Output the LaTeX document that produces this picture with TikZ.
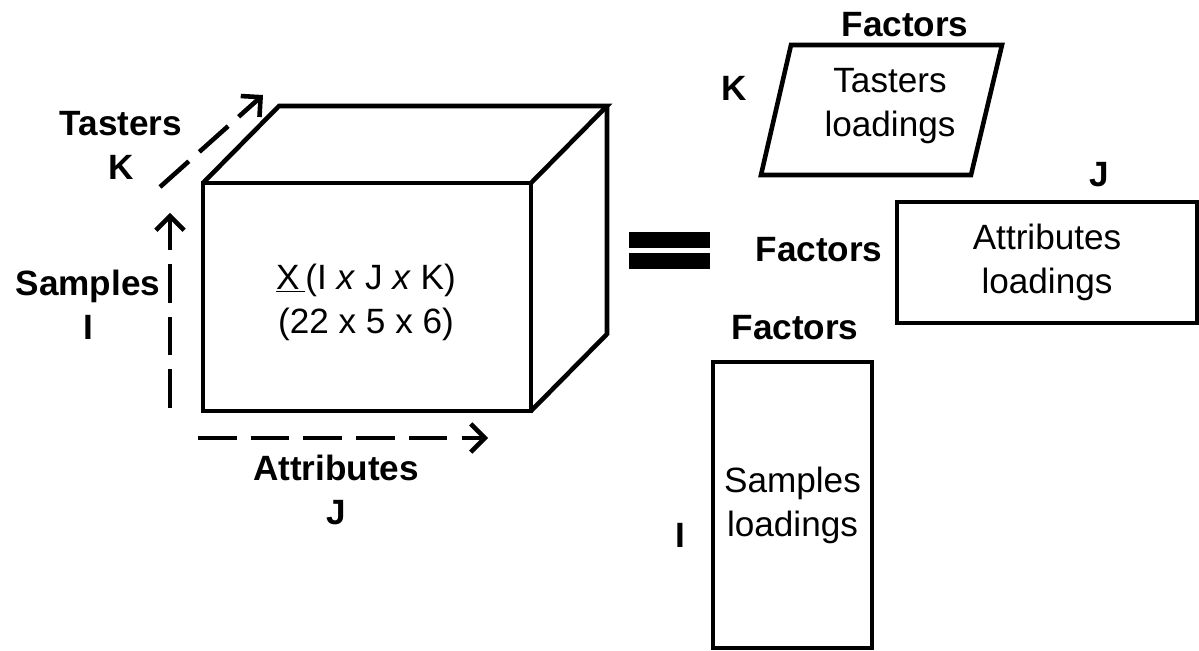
\documentclass[tikz,border=0pt]{standalone}
\usepackage{fontspec}
\setmainfont{Liberation Sans}
\usetikzlibrary{arrows.meta}
\tikzset{edge/.style={line width=2.6pt, line join=miter}}
\tikzset{axis/.style={line width=2.6pt, dash pattern=on 22pt off 8pt, -{Straight Barb[length=8pt,width=16pt]}}}
\tikzset{lbl/.style={font=\fontsize{20}{25}\selectfont\bfseries}}

\begin{document}
\begin{tikzpicture}[x=0.02cm, y=-0.02cm]
	% Default action for each node
	\tikzstyle{every node}=[font=\fontsize{20}{25}\selectfont, align=center, inner sep=0pt];
	\useasboundingbox (0,0) rectangle (1199,651);

	% Cube
	\coordinate (fnw) at (203,183);	\coordinate (fne) at (531,183);
	\coordinate (fsw) at (203,411);	\coordinate (fse) at (531,411);
	\coordinate (bnw) at (279,106);	\coordinate (bne) at (607,106);
									\coordinate (bse) at (607,334);

	\draw[edge] (fnw) rectangle (fse);
	\draw[edge] (fnw) -- (bnw) -- (bne) -- (fne);
	\draw[edge] (bne) -- (bse) -- (fse);
	\node (data) at (366,302) {\underline{X\,}(I \textit{x} J \textit{x} K)\\(22 x 5 x 6)};

	% Axes
	\coordinate (samplesfrom) at (170,408);		\coordinate (samplesto) at (170,213);
	\coordinate (attribfrom) at (198,438);		\coordinate (attribto) at (488,438);
	\coordinate (tastersfrom) at (160,187);		\coordinate (tastersto) at (263,95);

	\draw[axis] (samplesfrom) -- (samplesto);
	\draw[axis] (attribfrom) -- (attribto);
	\draw[axis] (tastersfrom) -- (tastersto);

	\node[lbl] (tasters) at (121,145) {Tasters\\K};
	\node[lbl] (samples) at (88,305) {Samples\\I};
	\node[lbl] (attributes) at (336,490) {Attributes\\J};

	% Equals
	\fill (629,232) rectangle (710,248);
	\fill (629,253) rectangle (710,269);

	% Tasters loadings
	\coordinate (pnw) at (791,45);	\coordinate (pne) at (1002,45);
	\coordinate (psw) at (761,175);	\coordinate (pse) at (971,175);
	\draw[edge] (pnw) -- (pne) -- (pse) -- (psw) -- cycle;
	\node (tload) at (890,106) {Tasters\\loadings};
	\node[lbl] (tfac) at (905,25) {Factors};
	\node[lbl] (tk) at (734,88) {K};

	% Attributes loadings
	\node[draw, line width=2.6pt, minimum width=6cm, minimum height=2.42cm] (aload) at (1047,262.5) {Attributes\\loadings};
	\node[lbl] (aj) at (1099,175) {J};
	\node[lbl] (afac) at (819,250) {Factors};

	% Samples loadings
	\node[draw, line width=2.6pt, minimum width=3.18cm, minimum height=5.72cm] (sload) at (792.5,505) {Samples\\loadings};
	\node[lbl] (sfac) at (795,328) {Factors};
	\node[lbl] (si) at (680,535) {I};
\end{tikzpicture}
\end{document}
